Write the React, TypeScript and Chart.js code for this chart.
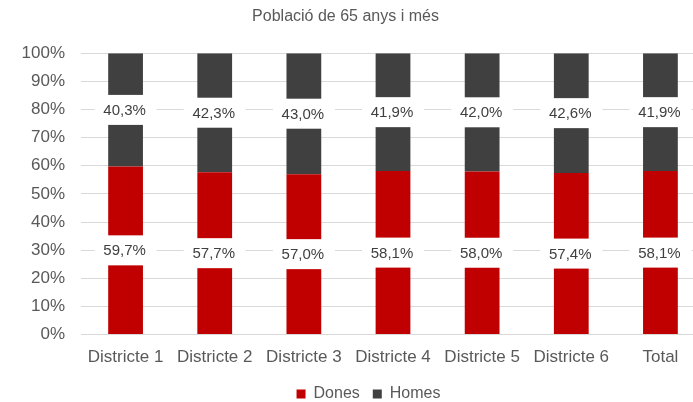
import React, { useEffect, useRef } from "react";
import { Chart, registerables } from "chart.js";

Chart.register(...registerables);

const categories = ["Districte 1", "Districte 2", "Districte 3", "Districte 4", "Districte 5", "Districte 6", "Total"];
const dones = [59.7, 57.7, 57.0, 58.1, 58.0, 57.4, 58.1];
const homes = [40.3, 42.3, 43.0, 41.9, 42.0, 42.6, 41.9];
const titleText = "Població de 65 anys i més";

const FONT = '"Liberation Sans", Arial, sans-serif';

const labelPlugin = {
  id: "boxLabels",
  afterDatasetsDraw(chart: any) {
    const ctx = chart.ctx;
    ctx.save();
    chart.data.datasets.forEach((ds: any, i: number) => {
      const meta = chart.getDatasetMeta(i);
      meta.data.forEach((bar: any, j: number) => {
        const { x, y, base } = bar.getProps(["x", "y", "base"], true);
        const cy = (y + base) / 2;
        ctx.fillStyle = "#ffffff";
        ctx.fillRect(x - 31, cy - 15, 62, 30);
        ctx.fillStyle = "#404040";
        ctx.font = `15px ${FONT}`;
        ctx.textAlign = "center";
        ctx.textBaseline = "middle";
        ctx.fillText(Number(ds.data[j]).toFixed(1).replace(".", ",") + "%", x - 1, cy + 1);
      });
    });
    ctx.restore();
  },
};

const legendShift = {
  id: "legendShift",
  afterLayout(chart: any) {
    const lg = chart.legend;
    if (lg) {
      lg.left += 23;
      lg.right += 23;
      if (lg.adjustHitBoxes) lg.adjustHitBoxes();
    }
  },
};

export default function App() {
  const ref = useRef<HTMLCanvasElement>(null);
  useEffect(() => {
    if (!ref.current) return;
    const chart = new Chart(ref.current, {
      type: "bar",
      data: {
        labels: categories,
        datasets: [
          { label: "Dones", data: dones, backgroundColor: "#C00000", borderWidth: 0 },
          { label: "Homes", data: homes, backgroundColor: "#404040", borderWidth: 0 },
        ],
      },
      options: {
        responsive: false,
        animation: false,
        devicePixelRatio: 1,
        layout: { padding: { left: 0, right: 1, top: 0, bottom: -10 } },
        datasets: { bar: { categoryPercentage: 1, barPercentage: 0.39 } },
        scales: {
          x: {
            stacked: true,
            grid: { display: false },
            border: { display: false },
            ticks: { color: "#595959", font: { family: FONT, size: 17 }, padding: 5, maxRotation: 0, autoSkip: false },
          },
          y: {
            stacked: true,
            min: 0,
            max: 100,
            afterFit: (s: any) => { s.width = 95; },
            grid: { color: "#D9D9D9", drawTicks: false, lineWidth: 1 },
            border: { display: false },
            ticks: {
              stepSize: 10,
              color: "#595959",
              font: { family: FONT, size: 17 },
              padding: 16,
              callback: (v: any) => v + "%",
            },
          },
        },
        plugins: {
          title: {
            display: true,
            text: titleText,
            color: "#595959",
            font: { family: FONT, size: 16, weight: "normal" },
            padding: { top: 7, bottom: 27 },
          },
          legend: {
            position: "bottom",
            labels: {
              color: "#595959",
              font: { family: FONT, size: 16 },
              boxWidth: 9,
              boxHeight: 9,
              padding: 13,
            },
          },
          tooltip: { enabled: false },
        },
      },
      plugins: [labelPlugin, legendShift],
    });
    return () => chart.destroy();
  }, []);
  return (
    <div style={{ position: "fixed", left: -14, top: 0, width: 720, height: 402, background: "#fff" }}>
      <canvas ref={ref} width={720} height={402} style={{ display: "block" }} />
    </div>
  );
}
